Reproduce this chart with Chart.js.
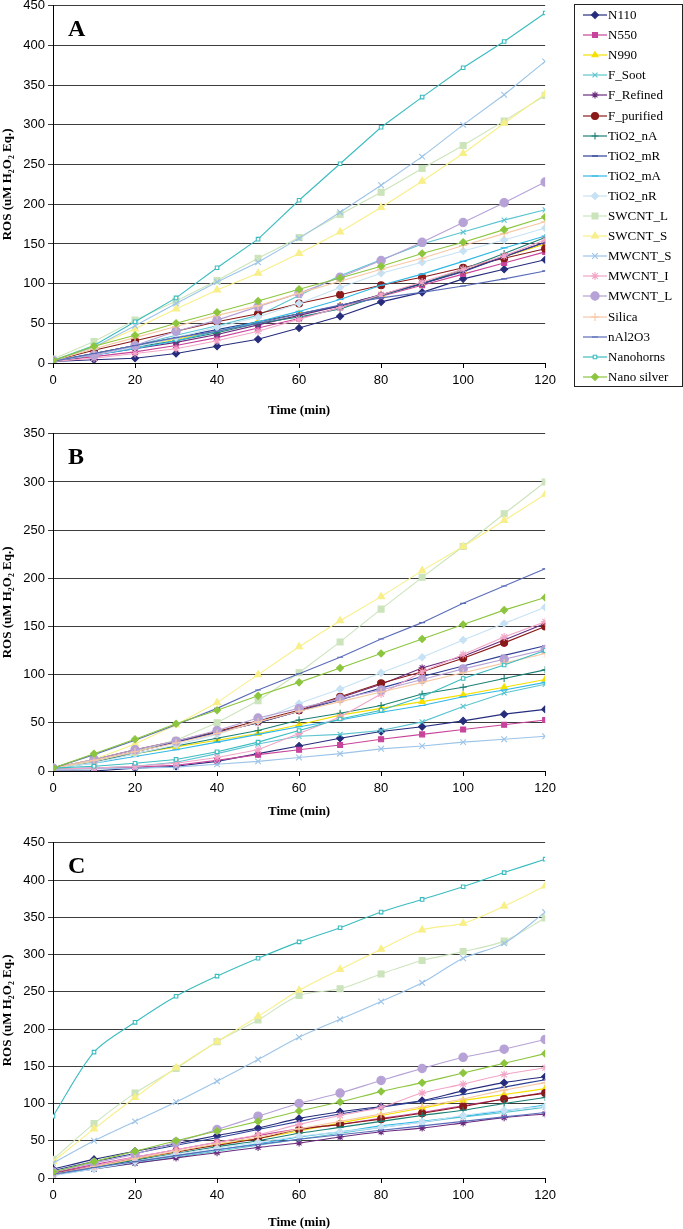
<!DOCTYPE html>
<html>
<head>
<meta charset="utf-8">
<script src="https://cdn.jsdelivr.net/npm/chart.js@4.4.0/dist/chart.umd.min.js"></script>
<style>
  body { margin: 0; background: #fff; width: 683px; height: 1229px; position: relative; overflow: hidden; }
  canvas.panel { position: absolute; left: 0; }
  #legend { position: absolute; left: 574px; top: 4px; width: 109px; height: 383px; border: 1px solid #222;
            box-sizing: border-box; font: 13px "Liberation Serif", "Times New Roman", serif; color: #000; background: #fff; }
  #legend .item { position: absolute; left: 8px; height: 20px; display: flex; align-items: center; white-space: nowrap; }
  #legend .item span { margin-left: 1px; }
</style>
</head>
<body>
<canvas id="chartA" class="panel"></canvas>
<canvas id="chartB" class="panel"></canvas>
<canvas id="chartC" class="panel"></canvas>
<div id="legend"></div>
<script>
var times = [0, 10, 20, 30, 40, 50, 60, 70, 80, 90, 100, 110, 120];
var names = ['N110', 'N550', 'N990', 'F_Soot', 'F_Refined', 'F_purified', 'TiO2_nA', 'TiO2_mR', 'TiO2_mA',
             'TiO2_nR', 'SWCNT_L', 'SWCNT_S', 'MWCNT_S', 'MWCNT_I', 'MWCNT_L', 'Silica', 'nAl2O3',
             'Nanohorns', 'Nano silver'];
var colors = ['#262c7c', '#c8449a', '#f5e000', '#5bc4d0', '#6b2a7e', '#8a1a1a', '#1b8074', '#2d3f95', '#30b8e6',
              '#c6e2f4', '#cce4bc', '#f8ef88', '#9cc4e8', '#f2a5c6', '#b6a2d6', '#f7c8a4', '#5a6cb8',
              '#3bbcc0', '#8cc63e'];
var markers = ['rectRot', 'rect', 'triangle', 'crossRot', 'star', 'circle', 'cross', 'line', 'line',
               'rectRot', 'rect', 'triangle', 'crossRot', 'star', 'circle', 'cross', 'line',
               'rect', 'rectRot'];
var markerSizes = [3.5, 3.5, 3.5, 3.5, 3.5, 3.5, 3.5, 3, 3.5, 3.5, 4.2, 4, 4, 4, 4.2, 4, 3, 2.5, 3.5];

var yTitle = 'ROS (uM H\u2082O\u2082 Eq.)';
var xTitle = 'Time (min)';
var xStep = 20;
var yStep = 50;

// panel A, one row per series in the order of names
var rosA = [
  [2, 4, 6, 12, 21, 30, 44, 59, 77, 89, 106, 118, 130],          // N110
  [2, 8, 14, 22, 32, 44, 56, 70, 84, 98, 112, 126, 140],         // N550
  [2, 12, 22, 30, 40, 52, 62, 72, 86, 100, 116, 134, 150],       // N990
  [3, 12, 22, 35, 47, 60, 85, 110, 130, 150, 165, 180, 193],     // F_Soot
  [2, 10, 18, 26, 36, 48, 60, 72, 86, 100, 116, 134, 152],       // F_Refined
  [3, 16, 28, 40, 52, 62, 75, 86, 98, 108, 120, 132, 144],       // F_purified
  [2, 10, 20, 28, 38, 50, 58, 68, 85, 100, 118, 138, 158],       // TiO2_nA
  [2, 12, 22, 32, 42, 52, 62, 72, 86, 100, 115, 134, 152],       // TiO2_mR
  [3, 10, 18, 28, 40, 52, 65, 80, 98, 112, 128, 145, 160],       // TiO2_mA
  [3, 10, 20, 32, 45, 58, 75, 95, 113, 127, 141, 155, 170],      // TiO2_nR
  [5, 27, 54, 78, 104, 132, 158, 187, 215, 245, 274, 305, 337],  // SWCNT_L
  [3, 20, 43, 68, 92, 113, 138, 165, 196, 229, 264, 302, 339],   // SWCNT_S
  [3, 20, 47, 75, 102, 127, 157, 190, 224, 260, 300, 338, 380],  // MWCNT_S
  [2, 6, 12, 18, 28, 40, 55, 70, 86, 102, 118, 135, 155],        // MWCNT_I
  [3, 10, 22, 40, 54, 71, 88, 108, 129, 152, 177, 202, 228],     // MWCNT_L
  [3, 18, 32, 46, 60, 72, 88, 103, 118, 132, 148, 163, 178],     // Silica
  [2, 12, 22, 32, 40, 50, 62, 73, 82, 89, 97, 106, 116],         // nAl2O3
  [3, 22, 52, 82, 120, 156, 205, 251, 297, 335, 372, 405, 441],  // Nanohorns
  [3, 21, 35, 50, 64, 78, 93, 107, 122, 138, 152, 168, 184]      // Nano silver
];

// panel B
var rosB = [
  [0, 0, 3, 5, 10, 18, 26, 34, 41, 46, 52, 59, 64],              // N110
  [2, 3, 4, 6, 11, 17, 22, 27, 33, 38, 43, 48, 53],              // N550
  [3, 10, 18, 25, 32, 39, 48, 58, 65, 72, 79, 87, 95],           // N990
  [2, 3, 5, 9, 18, 28, 36, 38, 42, 51, 67, 81, 90],              // F_Soot
  [3, 10, 20, 30, 40, 50, 62, 76, 90, 107, 119, 136, 153],       // F_Refined
  [3, 12, 22, 31, 41, 52, 63, 77, 91, 103, 117, 133, 150],       // F_purified
  [3, 10, 18, 26, 34, 42, 53, 60, 68, 80, 87, 96, 105],          // TiO2_nA
  [3, 10, 20, 30, 40, 50, 62, 74, 86, 98, 109, 120, 130],        // TiO2_mR
  [3, 8, 15, 22, 30, 38, 46, 53, 61, 68, 77, 84, 92],            // TiO2_mA
  [3, 8, 18, 27, 38, 52, 70, 85, 102, 118, 136, 153, 170],       // TiO2_nR
  [3, 10, 20, 32, 50, 73, 102, 134, 168, 201, 233, 267, 300],    // SWCNT_L
  [3, 12, 28, 48, 71, 100, 129, 156, 181, 208, 233, 260, 287],   // SWCNT_S
  [1, 2, 3, 4, 7, 10, 14, 18, 23, 26, 30, 33, 36],               // MWCNT_S
  [2, 3, 5, 8, 14, 22, 39, 56, 80, 103, 121, 139, 155],          // MWCNT_I
  [3, 12, 22, 31, 42, 55, 65, 75, 84, 95, 106, 116, 126],        // MWCNT_L
  [3, 11, 20, 29, 39, 51, 62, 72, 82, 92, 102, 112, 122],        // Silica
  [3, 17, 32, 48, 65, 84, 101, 118, 137, 154, 174, 192, 210],    // nAl2O3
  [3, 5, 8, 12, 20, 30, 42, 54, 63, 77, 96, 110, 125],           // Nanohorns
  [3, 18, 33, 49, 63, 78, 92, 107, 122, 137, 152, 167, 180]      // Nano silver
];

// panel C
var rosC = [
  [12, 25, 36, 46, 57, 67, 80, 89, 96, 104, 117, 128, 136],      // N110
  [7, 18, 28, 38, 48, 57, 66, 72, 80, 88, 97, 106, 115],         // N550
  [5, 15, 25, 35, 45, 53, 63, 74, 84, 94, 104, 112, 120],        // N990
  [4, 12, 20, 28, 36, 44, 52, 60, 68, 75, 82, 88, 95],           // F_Soot
  [4, 12, 20, 27, 34, 41, 47, 55, 62, 67, 74, 81, 86],           // F_Refined
  [6, 16, 26, 35, 44, 53, 65, 72, 79, 87, 96, 106, 114],         // F_purified
  [5, 14, 24, 33, 42, 50, 60, 68, 76, 84, 91, 100, 108],         // TiO2_nA
  [10, 22, 33, 44, 54, 65, 76, 86, 95, 103, 112, 122, 132],      // TiO2_mR
  [4, 13, 22, 30, 38, 46, 55, 62, 70, 76, 83, 90, 98],           // TiO2_mA
  [3, 12, 22, 32, 40, 48, 56, 62, 68, 75, 84, 91, 96],           // TiO2_nR
  [25, 73, 114, 147, 183, 212, 245, 254, 274, 292, 304, 318, 349], // SWCNT_L
  [22, 66, 108, 148, 183, 217, 252, 280, 307, 333, 342, 365, 392], // SWCNT_S
  [20, 50, 76, 102, 130, 159, 189, 213, 237, 262, 295, 315, 357],  // MWCNT_S
  [5, 16, 28, 38, 48, 58, 72, 84, 95, 114, 126, 139, 148],       // MWCNT_I
  [8, 20, 32, 48, 65, 83, 100, 114, 131, 147, 162, 173, 186],    // MWCNT_L
  [5, 15, 26, 36, 46, 55, 66, 76, 86, 96, 106, 118, 128],        // Silica
  [5, 14, 22, 30, 38, 45, 52, 58, 64, 70, 76, 82, 88],           // nAl2O3
  [83, 169, 209, 244, 271, 295, 317, 336, 357, 374, 391, 410, 428], // Nanohorns
  [8, 22, 36, 50, 63, 76, 90, 102, 116, 128, 141, 154, 167]      // Nano silver
];

var tickFont = { family: '"Liberation Sans", Arial, sans-serif', size: 13 };
var titleFont = { family: '"Liberation Serif", "Times New Roman", serif', size: 13, weight: 'bold' };

function letterPlugin(letter) {
  return {
    id: 'panelLetter',
    afterDraw: function(chart) {
      var ctx = chart.ctx, a = chart.chartArea;
      ctx.save();
      ctx.font = 'bold 24px "Liberation Serif", "Times New Roman", serif';
      ctx.fillStyle = '#000';
      ctx.textBaseline = 'alphabetic';
      ctx.fillText(letter, a.left + 15, a.top + 30);
      ctx.restore();
    }
  };
}

// top/bottom = wanted chart area edges in the page, titleY = centre of x title
function makePanel(id, rows, yMax, letter, tension, top, bottom, titleY) {
  var canvas = document.getElementById(id);
  var canvasTop = top - 10;
  var canvasBottom = Math.round(titleY + 7.8);
  var axisH = canvasBottom - bottom;
  canvas.width = 561;
  canvas.height = canvasBottom - canvasTop;
  canvas.style.top = canvasTop + 'px';

  var datasets = names.map(function(name, i) {
    return {
      label: name,
      data: times.map(function(t, j) { return { x: t, y: rows[i][j] }; }),
      borderColor: colors[i],
      backgroundColor: colors[i],
      pointBackgroundColor: name === 'Nanohorns' ? '#fff' : colors[i],
      pointBorderColor: colors[i],
      pointStyle: markers[i],
      pointRadius: markerSizes[i],
      pointBorderWidth: 1.1,
      borderWidth: 1.1,
      tension: tension,
      order: names.length - i
    };
  });

  return new Chart(canvas.getContext('2d'), {
    type: 'line',
    data: { datasets: datasets },
    options: {
      responsive: false,
      animation: false,
      layout: { padding: { top: 10, right: 12, bottom: 0, left: 0 } },
      plugins: { legend: { display: false }, tooltip: { enabled: false } },
      scales: {
        x: {
          type: 'linear', min: 0, max: 120,
          ticks: { stepSize: xStep, font: tickFont, color: '#000', padding: 5 },
          grid: { drawOnChartArea: false, tickLength: 5, color: '#000' },
          border: { color: '#000', width: 1 },
          title: { display: true, text: xTitle, font: titleFont, color: '#000', padding: { top: 0, bottom: 0 } },
          afterFit: function(s) { s.height = axisH; }
        },
        y: {
          type: 'linear', min: 0, max: yMax,
          ticks: { stepSize: yStep, font: tickFont, color: '#000', padding: 3 },
          grid: { color: '#3c3c3c', lineWidth: 1, tickLength: 5 },
          border: { color: '#000', width: 1 },
          title: { display: true, text: yTitle, font: titleFont, color: '#000', padding: { top: 0, bottom: 0 } },
          afterFit: function(s) { s.width = 53; }
        }
      }
    },
    plugins: [letterPlugin(letter)]
  });
}

makePanel('chartA', rosA, 450, 'A', 0, 5, 363, 410);
makePanel('chartB', rosB, 350, 'B', 0, 433, 771, 811);
makePanel('chartC', rosC, 450, 'C', 0.3, 842, 1178, 1222);

// legend for panel A
var legend = document.getElementById('legend');
names.forEach(function(name, i) {
  var row = document.createElement('div');
  row.className = 'item';
  row.style.top = (i * 20.1) + 'px';
  var c = document.createElement('canvas');
  c.width = 24; c.height = 14;
  var g = c.getContext('2d');
  g.strokeStyle = colors[i];
  g.fillStyle = name === 'Nanohorns' ? '#fff' : colors[i];
  g.lineWidth = 1.2;
  g.beginPath(); g.moveTo(0, 7); g.lineTo(24, 7); g.stroke();
  if (Chart.helpers && Chart.helpers.drawPoint) {
    g.lineWidth = 1.1;
    Chart.helpers.drawPoint(g, { pointStyle: markers[i], radius: markerSizes[i], rotation: 0, borderWidth: 1.1 }, 12, 7);
  }
  var span = document.createElement('span');
  span.textContent = name;
  row.appendChild(c);
  row.appendChild(span);
  legend.appendChild(row);
});
</script>
</body>
</html>
